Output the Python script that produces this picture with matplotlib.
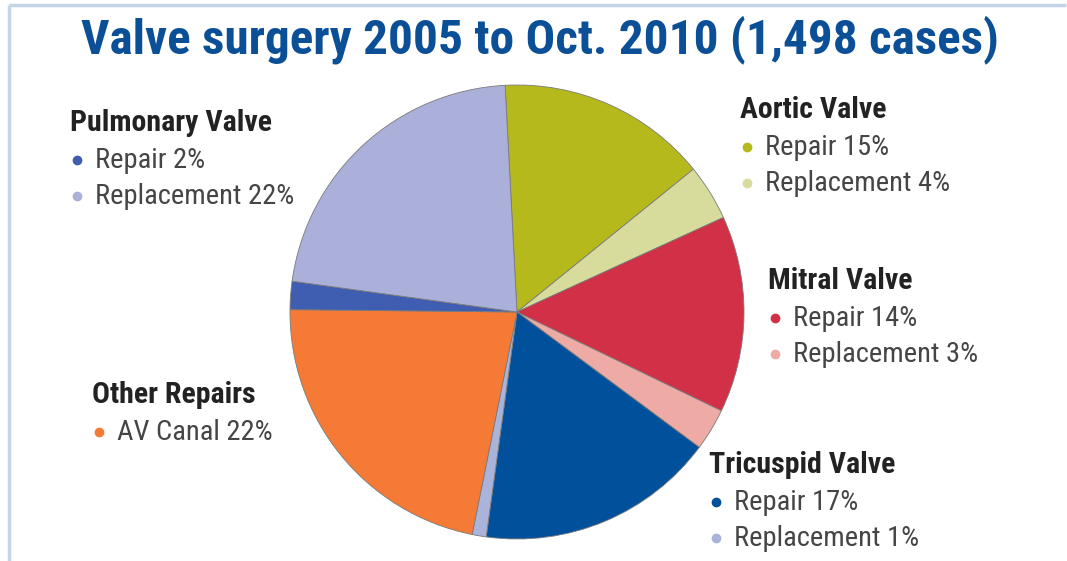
import matplotlib
matplotlib.use('Agg')
import matplotlib.pyplot as plt

# valve surgery breakdown, clockwise from the top
labels = ['Aortic Repair', 'Aortic Replacement', 'Mitral Repair', 'Mitral Replacement',
          'Tricuspid Repair', 'Tricuspid Replacement', 'AV Canal',
          'Pulmonary Repair', 'Pulmonary Replacement']
shares = [15, 4, 14, 3, 17, 1, 22, 2, 22]
colors = ['#b5b91c', '#d7dc9c', '#d23046', '#eeaaa4', '#00509b', '#aab3da',
          '#f47a35', '#3f5eb1', '#aab0d9']

groups = ['Aortic Valve', 'Mitral Valve', 'Tricuspid Valve', 'Other Repairs', 'Pulmonary Valve']
group_items = [
    [('Repair', 15, '#b5b91c'), ('Replacement', 4, '#d7dc9c')],
    [('Repair', 14, '#d23046'), ('Replacement', 3, '#eeaaa4')],
    [('Repair', 17, '#00509b'), ('Replacement', 1, '#aab3da')],
    [('AV Canal', 22, '#f47a35')],
    [('Repair', 2, '#3f5eb1'), ('Replacement', 22, '#aab0d9')],
]
# heading anchor (left x, y from top) for each legend block
group_pos = [(740, 110), (768, 281), (709, 465), (92, 395), (70, 123)]

W, H = 1067, 561
fig = plt.figure(figsize=(W / 100, H / 100), dpi=100)
ax = fig.add_axes([0, 0, 1, 1])

narrow = ['Roboto Condensed', 'DejaVu Sans']

ax.pie(shares, colors=colors, startangle=93, counterclock=False,
       center=(517, H - 312), radius=227,
       wedgeprops=dict(edgecolor='#7a7a7a', linewidth=0.6))

ax.set_xlim(0, W)
ax.set_ylim(0, H)
ax.set_aspect('equal')
ax.axis('off')

# thin frame along top and left
ax.plot([9, 1066], [H - 5, H - 5], color='#c5d5e8', lw=2.5, solid_capstyle='butt')
ax.plot([9, 9], [H - 5, 0], color='#c5d5e8', lw=2.5, solid_capstyle='butt')

ax.text(540, H - 40, 'Valve surgery 2005 to Oct. 2010 (1,498 cases)',
        family=narrow, fontweight='bold', fontsize=35.5, color='#0b4f97',
        ha='center', va='center')

for name, items, (x, y) in zip(groups, group_items, group_pos):
    ax.text(x, H - y, name, family=narrow, fontweight='bold', fontsize=21.5,
            color='#222222', ha='left', va='center')
    for i, (lab, val, col) in enumerate(items):
        yy = H - (y + 37 + 36 * i)
        ax.plot(x + 7, yy, 'o', color=col, markersize=6)
        ax.text(x + 25, yy, f'{lab} {val}%', family=narrow, fontsize=20.5,
                color='#454545', ha='left', va='center')

fig.savefig('out.png', dpi=100, facecolor='white')
